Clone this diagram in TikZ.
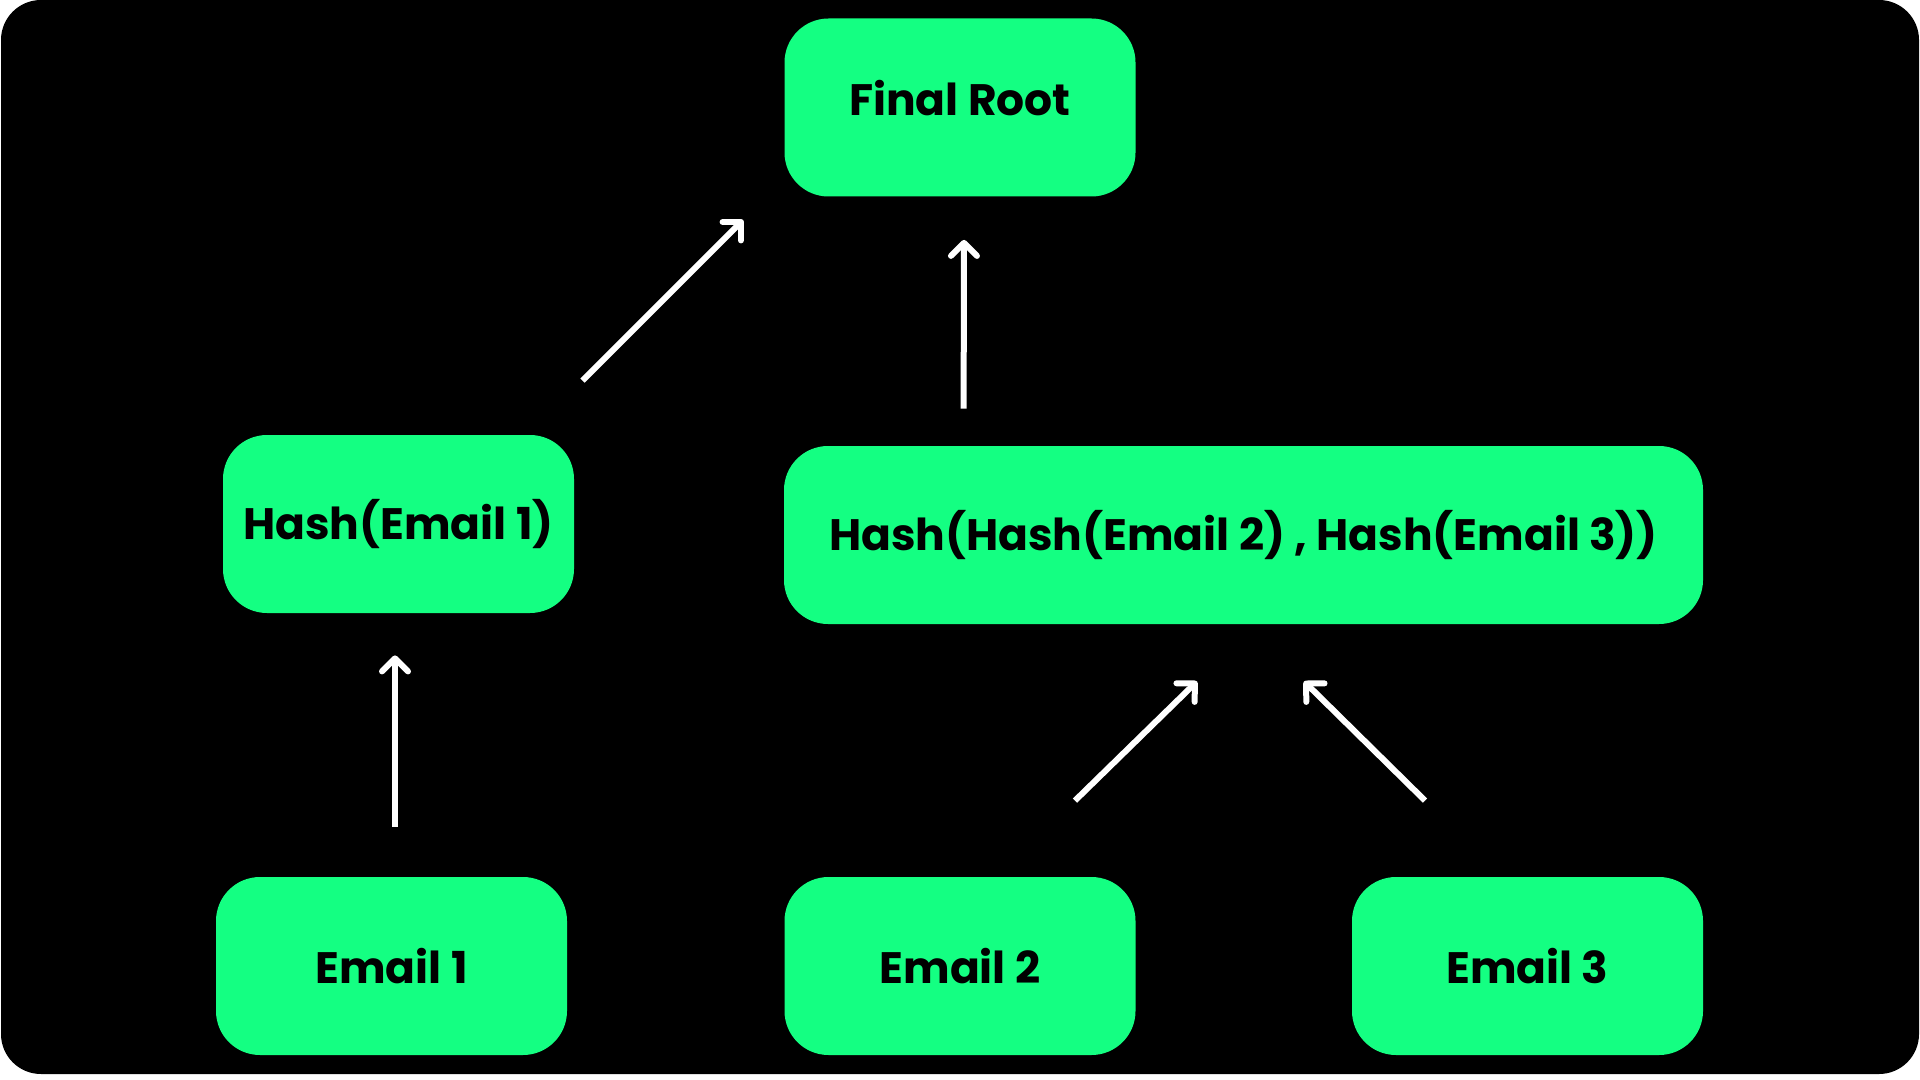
\documentclass[tikz,border=0pt]{standalone}
\usepackage{fontspec}
\setmainfont{Poppins}
\usepackage{tikz}
\usetikzlibrary{calc, arrows.meta}
\definecolor{hashgreen}{RGB}{20,255,130}

\begin{document}
\begin{tikzpicture}[x=0.5pt, y=-0.5pt,
    box/.style={fill=hashgreen, rounded corners=22pt, minimum width=175.5pt,
        minimum height=89pt, inner sep=0pt,
        font=\fontsize{22}{26}\selectfont\bfseries},
    link/.style={draw=white, line width=3pt,
        -{Straight Barb[length=6.5pt, width=13pt, line width=3pt, round]}}]
    % --- 背景 ---
    \fill[white] (0,0) rectangle (1920,1080);
    \useasboundingbox (0,0) rectangle (1920,1080);
    \fill[black, rounded corners=20pt] (1,0) rectangle (1919,1074);

    % --- 节点 ---
    \node[box, text depth=10pt] (root) at (960,107.5) {Final Root};
    \node[box] (hashA) at (398.5,524) {Hash(Email 1)};
    \node[box, minimum width=459.5pt] (hashBC) at (1243.5,535) {Hash(Hash(Email 2) , Hash(Email 3))};
    \node[box] (emailA) at (391.5,966) {Email 1};
    \node[box] (emailB) at (960,966) {Email 2};
    \node[box] (emailC) at (1527.5,966) {Email 3};

    % --- 箭头端点（箭头不接触方框） ---
    \coordinate (aS) at ($(emailA.north)+(3.5,-50)$);
    \coordinate (aE) at ($(hashA.south)+(-3.5,42)$);
    \coordinate (bS) at ($(hashA.north east)+(8,-54)$);
    \coordinate (bE) at ($(root.south west)+(-41,23)$);
    \coordinate (cS) at ($(hashBC.north west)+(180,-37)$);
    \coordinate (cE) at ($(root.south)+(4,43)$);
    \coordinate (dS) at ($(emailB.north)+(115,-76)$);
    \coordinate (dE) at ($(hashBC.south)+(-46.5,57)$);
    \coordinate (eS) at ($(emailC.north)+(-102.5,-76)$);
    \coordinate (eE) at ($(hashBC.south)+(60.5,57)$);

    % --- 箭头 ---
    \draw[link] (aS) -- (aE);
    \draw[link] (bS) -- (bE);
    \draw[link] (cS) -- (cE);
    \draw[link] (dS) -- (dE);
    \draw[link] (eS) -- (eE);
\end{tikzpicture}
\end{document}
